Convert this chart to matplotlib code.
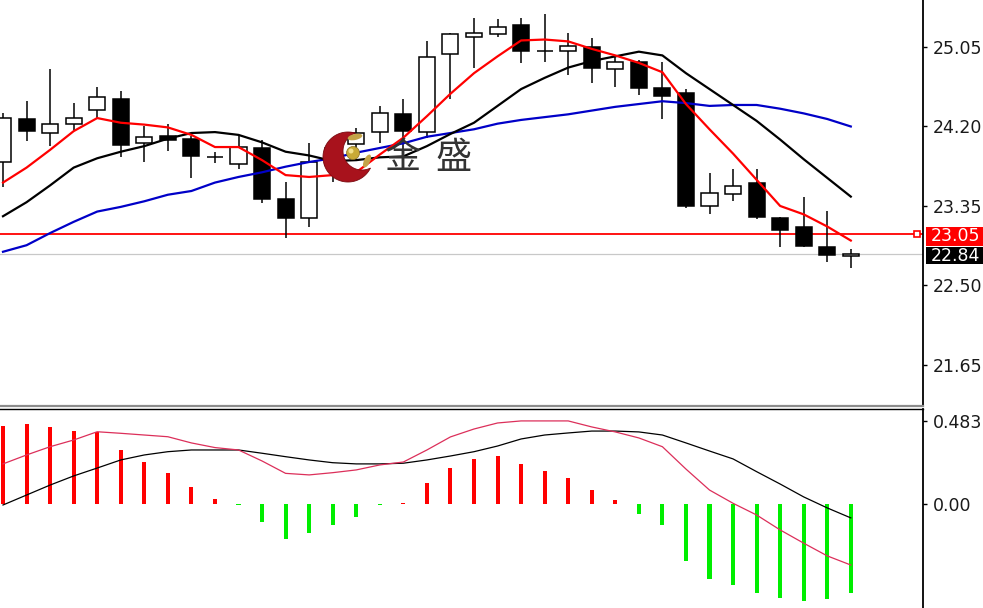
import numpy as np
import matplotlib.pyplot as plt
import matplotlib.transforms as mtransforms
from matplotlib.patches import Rectangle, Circle, Ellipse, Polygon

# Candles (price)
opens = [23.82, 24.28, 24.13, 24.23, 24.38, 24.49, 24.02, 24.10, 24.07, 23.87,
         23.80, 23.97, 23.42, 23.22, 23.79, 24.01, 24.14, 24.33, 24.14, 24.98,
         25.16, 25.19, 25.29, 25.01, 25.01, 25.05, 24.82, 24.89, 24.61, 24.56,
         23.35, 23.48, 23.60, 23.22, 23.13, 22.91, 22.82]
highs = [24.34, 24.47, 24.82, 24.45, 24.62, 24.58, 24.21, 24.23, 24.10, 23.93,
         24.11, 24.06, 23.61, 24.02, 24.06, 24.18, 24.42, 24.49, 25.11, 25.20,
         25.36, 25.35, 25.36, 25.40, 25.20, 25.15, 24.94, 24.91, 24.89, 24.60,
         23.70, 23.74, 23.74, 23.23, 23.45, 23.30, 22.89]
lows = [23.55, 24.05, 23.99, 24.16, 24.29, 23.87, 23.82, 23.94, 23.65, 23.81,
        23.74, 23.38, 23.01, 23.13, 23.61, 23.90, 24.02, 23.95, 24.08, 24.49,
        24.83, 25.16, 24.88, 24.89, 24.75, 24.67, 24.62, 24.54, 24.28, 23.33,
        23.26, 23.40, 23.21, 22.91, 22.91, 22.75, 22.69]
closes = [24.29, 24.15, 24.23, 24.29, 24.52, 24.00, 24.09, 24.06, 23.88, 23.87,
          23.98, 23.42, 23.22, 23.82, 23.97, 24.13, 24.34, 24.15, 24.94, 25.19,
          25.20, 25.26, 25.01, 25.01, 25.06, 24.83, 24.89, 24.61, 24.53, 23.35,
          23.49, 23.56, 23.23, 23.09, 22.92, 22.83, 22.84]

# moving averages as drawn
ma_fast = [23.60, 23.76, 23.95, 24.15, 24.29, 24.24, 24.22, 24.19, 24.11, 23.98,
           23.98, 23.84, 23.68, 23.66, 23.68, 23.71, 23.90, 24.08, 24.31, 24.55,
           24.77, 24.95, 25.12, 25.13, 25.11, 25.03, 24.96, 24.88, 24.78, 24.44,
           24.17, 23.91, 23.63, 23.35, 23.26, 23.13, 22.98]
ma_mid = [23.24, 23.39, 23.57, 23.76, 23.86, 23.93, 23.99, 24.07, 24.13, 24.14,
          24.11, 24.03, 23.93, 23.89, 23.83, 23.84, 23.87, 23.88, 23.99, 24.12,
          24.24, 24.42, 24.60, 24.72, 24.83, 24.90, 24.95, 25.00, 24.96, 24.77,
          24.60, 24.43, 24.26, 24.06, 23.85, 23.65, 23.45]
ma_slow = [22.86, 22.93, 23.06, 23.18, 23.29, 23.34, 23.40, 23.47, 23.51, 23.60,
           23.66, 23.71, 23.77, 23.82, 23.86, 23.92, 23.97, 24.02, 24.09, 24.13,
           24.17, 24.23, 24.27, 24.30, 24.33, 24.37, 24.41, 24.44, 24.47, 24.45,
           24.42, 24.43, 24.43, 24.39, 24.34, 24.28, 24.20]

alert_level = 23.05
last_price = 22.84
price_ticks = [25.05, 24.20, 23.35, 22.50, 21.65]

# MACD panel
hist = [0.453, 0.463, 0.449, 0.426, 0.419, 0.314, 0.246, 0.178, 0.101, 0.031,
        -0.004, -0.107, -0.203, -0.171, -0.120, -0.074, -0.005, 0.006, 0.122, 0.211,
        0.260, 0.281, 0.233, 0.192, 0.149, 0.081, 0.023, -0.058, -0.120, -0.330,
        -0.436, -0.469, -0.519, -0.547, -0.562, -0.554, -0.519]
dif = [0.233, 0.285, 0.333, 0.372, 0.420, 0.411, 0.401, 0.391, 0.355, 0.328,
       0.314, 0.250, 0.178, 0.169, 0.182, 0.198, 0.227, 0.244, 0.314, 0.390,
       0.436, 0.471, 0.483, 0.483, 0.483, 0.448, 0.419, 0.384, 0.333, 0.203,
       0.081, 0.004, -0.064, -0.151, -0.228, -0.302, -0.355]
dea = [-0.006, 0.052, 0.110, 0.163, 0.209, 0.256, 0.285, 0.304, 0.314, 0.314,
       0.314, 0.295, 0.275, 0.256, 0.240, 0.233, 0.233, 0.237, 0.256, 0.279,
       0.304, 0.337, 0.378, 0.401, 0.413, 0.424, 0.424, 0.419, 0.401, 0.355,
       0.308, 0.262, 0.188, 0.116, 0.041, -0.023, -0.081]
macd_ticks = [0.483, 0.0]
macd_labels = ['0.483', '0.00']

W, H = 983, 608
n = len(closes)
x = np.arange(n)
xlim = (-3 / 23.55, 920 / 23.55)

fig = plt.figure(figsize=(W / 100, H / 100), dpi=100)
ax = fig.add_axes([0, 1 - 406 / H, 923 / W, 406 / H])
ax2 = fig.add_axes([0, 0, 923 / W, 199 / H])

# candles
body_w = 0.68
for i in range(n):
    o, h, l, c = opens[i], highs[i], lows[i], closes[i]
    ax.vlines(i, l, h, color='black', lw=1.1, zorder=2)
    face = 'white' if c >= o else 'black'
    ax.add_patch(Rectangle((i - body_w / 2, min(o, c)), body_w, abs(c - o),
                           facecolor=face, edgecolor='black', lw=1.1, zorder=3))

ax.axhline(last_price, color='#C8C8C8', lw=0.9, zorder=1)
ax.axhline(alert_level, color='#FF0000', lw=1.3, zorder=1)
ax.plot([xlim[1] - 0.25], [alert_level], marker='s', ms=4, mfc='white',
        mec='#FF0000', mew=1.2, zorder=6, clip_on=False)

ax.plot(x, ma_slow, color='#0000C8', lw=1.6, zorder=4)
ax.plot(x, ma_mid, color='black', lw=1.6, zorder=4)
ax.plot(x, ma_fast, color='#FF0000', lw=1.6, zorder=5)

ax.set_xlim(*xlim)
ax.set_ylim(21.2105, 25.5527)
ax.set_xticks([])
ax.yaxis.tick_right()
ax.set_yticks(price_ticks)
ax.set_yticklabels([f'{t:.2f}' for t in price_ticks])
ax.tick_params(axis='y', length=3, width=1, pad=4, labelsize=12.5,
               labelcolor='#1a1a1a')
for s in ['top', 'left']:
    ax.spines[s].set_visible(False)
ax.spines['bottom'].set_color('#8c8c8c')
ax.spines['bottom'].set_linewidth(1.6)
ax.spines['right'].set_linewidth(1.3)

# price labels on the right scale
blend = mtransforms.blended_transform_factory(ax.transAxes, ax.transData)
bx = 926 / 923
ax.add_patch(Rectangle((bx, alert_level - 0.128), 0.08, 0.203, transform=blend,
                       facecolor='#FF0000', edgecolor='none', clip_on=False, zorder=6))
ax.add_patch(Rectangle((bx, last_price - 0.111), 0.08, 0.182, transform=blend,
                       facecolor='black', edgecolor='none', clip_on=False, zorder=6))
ax.text(931 / 923, alert_level - 0.025, f'{alert_level:.2f}', transform=blend,
        color='white', fontsize=12.5, va='center', ha='left', clip_on=False, zorder=7)
ax.text(931 / 923, last_price - 0.02, f'{last_price:.2f}', transform=blend,
        color='white', fontsize=12.5, va='center', ha='left', clip_on=False, zorder=7)

# MACD
bar_colors = ['#FF0000' if v > 0 else '#00EE00' for v in hist]
ax2.bar(x, hist, width=0.17, color=bar_colors, zorder=2)
ax2.plot(x, dea, color='black', lw=0.9, zorder=3)
ax2.plot(x, dif, color='#DC2F5A', lw=0.9, zorder=3)
ax2.set_xlim(*xlim)
ax2.set_ylim(-0.605, 0.5523)
ax2.set_xticks([])
ax2.yaxis.tick_right()
ax2.set_yticks(macd_ticks)
ax2.set_yticklabels(macd_labels)
ax2.tick_params(axis='y', length=3, width=1, pad=4, labelsize=12.5,
                labelcolor='#1a1a1a')
for s in ['bottom', 'left']:
    ax2.spines[s].set_visible(False)
ax2.spines['top'].set_linewidth(1.0)
ax2.spines['right'].set_linewidth(1.3)

# watermark logo
lax = fig.add_axes([318 / W, 1 - 186 / H, 62 / W, 56 / H])
lax.set_xlim(318, 380)
lax.set_ylim(186, 130)
lax.axis('off')
c1, R = np.array([348.0, 157.0]), 25.0
c2, r = np.array([362.0, 151.0]), 19.0
base = np.arctan2(c2[1] - c1[1], c2[0] - c1[0])
a1 = base + np.linspace(0.001, 2 * np.pi - 0.001, 400)
arc1 = np.column_stack([c1[0] + R * np.cos(a1), c1[1] + R * np.sin(a1)])
arc1 = arc1[np.hypot(arc1[:, 0] - c2[0], arc1[:, 1] - c2[1]) > r]
a2 = base + np.pi + np.linspace(-np.pi + 0.001, np.pi - 0.001, 400)
arc2 = np.column_stack([c2[0] + r * np.cos(a2), c2[1] + r * np.sin(a2)])
arc2 = arc2[np.hypot(arc2[:, 0] - c1[0], arc2[:, 1] - c1[1]) < R]
if np.hypot(*(arc1[-1] - arc2[0])) > np.hypot(*(arc1[-1] - arc2[-1])):
    arc2 = arc2[::-1]
lax.add_patch(Polygon(np.vstack([arc1, arc2]), closed=True, facecolor='#A8121C',
                      edgecolor='#7a0a10', lw=0.6))
lax.add_patch(Ellipse((355, 137), 15, 6, angle=-12, facecolor='#C4A448', edgecolor='none'))
lax.add_patch(Ellipse((367, 161), 6, 14, angle=25, facecolor='#C4A448', edgecolor='none'))
lax.add_patch(Circle((353, 153), 6.5, facecolor='#C9AA36', edgecolor='#8a7020', lw=0.5))
lax.add_patch(Circle((351, 151), 2.5, facecolor='#F2E08A', edgecolor='none'))

fig.text(385 / W, 1 - 158 / H, '金', fontsize=26, family='Noto Sans CJK SC',
         color='#333333', va='center', ha='left')
fig.text(435 / W, 1 - 158 / H, '盛', fontsize=26, family='Noto Sans CJK SC',
         color='#333333', va='center', ha='left')

fig.savefig('out.png', dpi=100)
